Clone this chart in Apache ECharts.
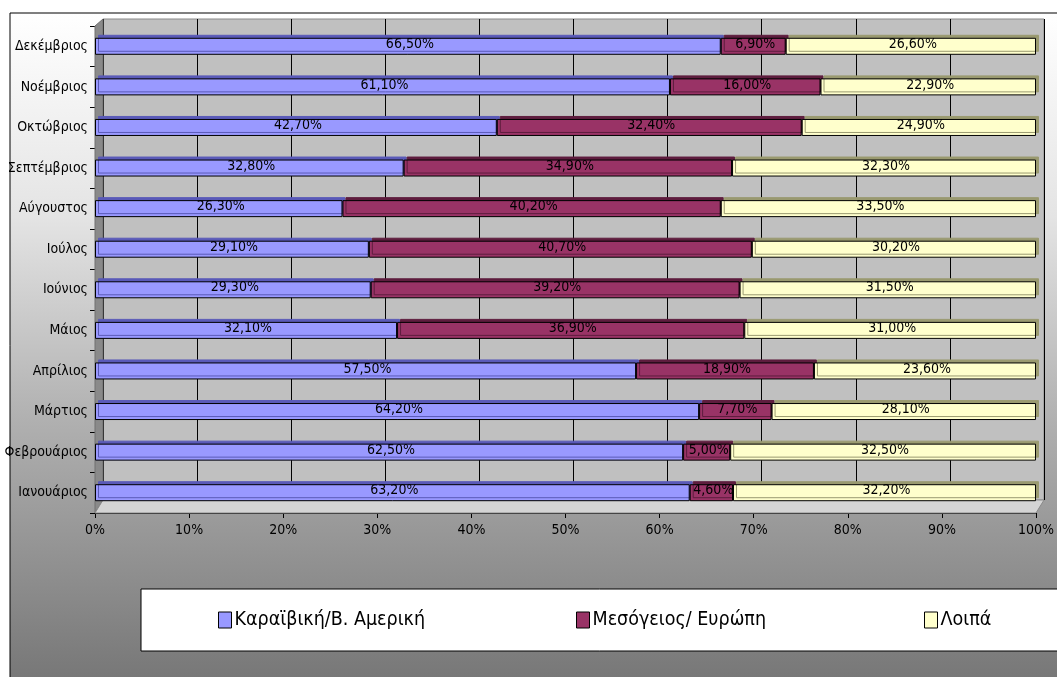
<!DOCTYPE html>
<html>
<head>
<meta charset="utf-8">
<script src="https://cdn.jsdelivr.net/npm/echarts@6/dist/echarts.min.js"></script>
<style>
  html, body { margin: 0; padding: 0; background: #ffffff; }
  #chart { width: 1057px; height: 677px; }
</style>
</head>
<body>
<div id="chart"></div>
<script>
// Months, bottom to top on the category axis
const months = ['Ιανουάριος', 'Φεβρουάριος', 'Μάρτιος', 'Απρίλιος', 'Μάιος', 'Ιούνιος',
                'Ιούλος', 'Αύγουστος', 'Σεπτέμβριος', 'Οκτώβριος', 'Νοέμβριος', 'Δεκέμβριος'];

// Share of arrivals per region (%)
const caribbean = [63.2, 62.5, 64.2, 57.5, 32.1, 29.3, 29.1, 26.3, 32.8, 42.7, 61.1, 66.5];
const mediterranean = [4.6, 5.0, 7.7, 18.9, 36.9, 39.2, 40.7, 40.2, 34.9, 32.4, 16.0, 6.9];
const others = [32.2, 32.5, 28.1, 23.6, 31.0, 31.5, 30.2, 33.5, 32.3, 24.9, 22.9, 26.6];

const seriesNames = ['Καραϊβική/Β. Αμερική', 'Μεσόγειος/ Ευρώπη', 'Λοιπά'];
const xTicks = [0, 10, 20, 30, 40, 50, 60, 70, 80, 90, 100];

const FONT = '"DejaVu Sans Condensed", "Liberation Sans Narrow", sans-serif';

const chart = echarts.init(document.getElementById('chart'), null, { renderer: 'canvas' });

function pct(v) { return v.toFixed(2).replace('.', ',') + '%'; }

function barSeries(name, data, color, depthColor) {
  return {
    name: name,
    type: 'bar',
    stack: 'total',
    xAxisIndex: 0,
    yAxisIndex: 0,
    barWidth: 17,
    data: data,
    itemStyle: {
      color: color,
      borderColor: '#000000',
      borderWidth: 1,
      shadowColor: depthColor,
      shadowBlur: 0,
      shadowOffsetX: 3,
      shadowOffsetY: -3
    },
    label: {
      show: true,
      position: 'inside',
      offset: [2, -2],
      color: '#000000',
      fontFamily: FONT,
      fontSize: 14,
      formatter: p => pct(p.value)
    },
    emphasis: { disabled: true },
    animation: false
  };
}

// one legend entry per region, spread across the legend box
const legendLefts = [218, 576, 924];
const legends = seriesNames.map((name, i) => ({
  data: [name],
  left: legendLefts[i],
  top: 610,
  padding: 0,
  itemWidth: 13,
  itemHeight: 16,
  itemGap: 4,
  icon: 'rect',
  itemStyle: { borderColor: '#000000', borderWidth: 1, shadowColor: 'transparent', shadowOffsetX: 0, shadowOffsetY: 0 },
  textStyle: { fontFamily: FONT, fontSize: 19.5, color: '#000000', padding: [0, 0, 0, -2] },
  selectedMode: false
}));

const option = {
  backgroundColor: '#ffffff',
  animation: false,
  graphic: [
    {
      // outer chart frame with a light-to-dark fill
      type: 'rect',
      z: -10,
      shape: { x: 10, y: 13, width: 1060, height: 680 },
      style: {
        fill: new echarts.graphic.LinearGradient(0, 0, 0, 1, [
          { offset: 0, color: '#ffffff' },
          { offset: 0.3, color: '#e4e4e4' },
          { offset: 0.6, color: '#b0b0b0' },
          { offset: 0.8, color: '#929292' },
          { offset: 1, color: '#747474' }
        ]),
        stroke: '#000000',
        lineWidth: 1
      }
    },
    {
      // legend box
      type: 'rect',
      z: -5,
      shape: { x: 141, y: 589, width: 940, height: 62 },
      style: { fill: '#ffffff', stroke: '#000000', lineWidth: 1 }
    },
    {
      // left side wall
      type: 'polygon',
      z: 1,
      shape: { points: [[95, 26], [103, 19], [103, 500], [95, 513]] },
      style: { fill: '#8a8a8a', stroke: '#707070', lineWidth: 1 }
    },
    {
      // floor
      type: 'polygon',
      z: 1,
      shape: { points: [[95, 513], [103, 500], [1044, 500], [1036, 513]] },
      style: { fill: '#d4d4d4', stroke: '#8a8a8a', lineWidth: 1 }
    }
  ],
  legend: legends,
  grid: [
    {
      // front plane: bars and axes
      left: 95, right: 21, top: 26, bottom: 164,
      containLabel: false
    },
    {
      // back wall with gridlines
      left: 103, right: 13, top: 19, bottom: 177,
      show: true,
      backgroundColor: '#c0c0c0',
      borderColor: '#8a8a8a',
      borderWidth: 1,
      z: -1
    }
  ],
  xAxis: [
    {
      type: 'value',
      gridIndex: 0,
      min: 0, max: 100, interval: 10,
      axisLine: { show: true, lineStyle: { color: '#000000', width: 1 } },
      axisTick: { show: true, length: 5, lineStyle: { color: '#000000' } },
      splitLine: { show: false },
      axisLabel: {
        color: '#000000',
        fontFamily: FONT,
        fontSize: 14,
        margin: 10,
        formatter: v => xTicks.includes(v) ? v + '%' : ''
      }
    },
    {
      type: 'value',
      gridIndex: 1,
      min: 0, max: 100, interval: 10,
      axisLine: { show: false },
      axisTick: { show: false },
      axisLabel: { show: false },
      splitLine: { show: true, lineStyle: { color: '#000000', width: 1 } }
    }
  ],
  yAxis: [
    {
      type: 'category',
      gridIndex: 0,
      data: months,
      axisLine: { show: true, lineStyle: { color: '#000000', width: 1 } },
      axisTick: { show: true, length: 5, lineStyle: { color: '#000000' } },
      axisLabel: { color: '#000000', fontFamily: FONT, fontSize: 14, margin: 7 },
      splitLine: { show: false }
    },
    {
      type: 'category',
      gridIndex: 1,
      data: months,
      show: false
    }
  ],
  series: [
    barSeries(seriesNames[0], caribbean, '#9999ff', '#5a5ab8'),
    barSeries(seriesNames[1], mediterranean, '#993366', '#5e1d3e'),
    barSeries(seriesNames[2], others, '#ffffcc', '#9a9a70')
  ]
};

chart.setOption(option);
</script>
</body>
</html>
